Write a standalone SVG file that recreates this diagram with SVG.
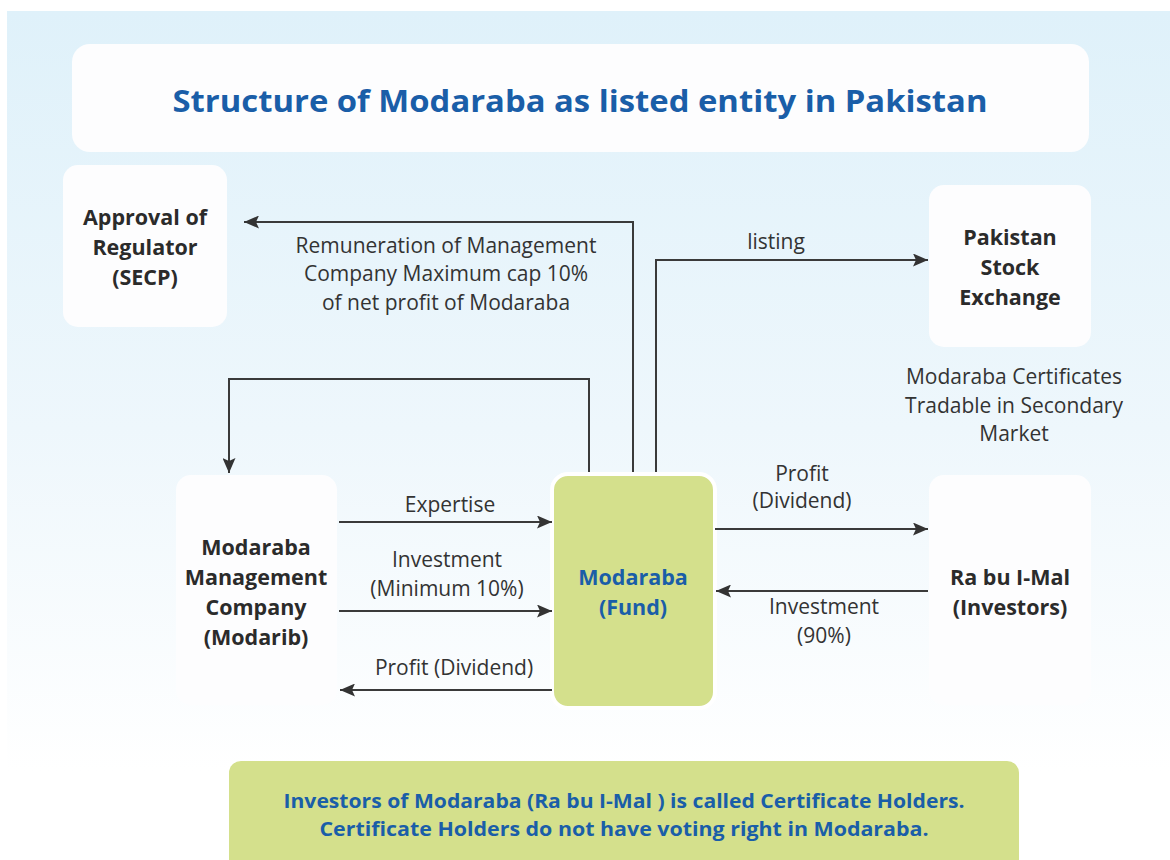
<svg xmlns="http://www.w3.org/2000/svg" width="1170" height="860" viewBox="0 0 1170 860">
<defs>
<linearGradient id="bg" x1="0" y1="0" x2="0" y2="1">
<stop offset="0" stop-color="#dff1fa"/>
<stop offset="0.55" stop-color="#eef7fc"/>
<stop offset="1" stop-color="#ffffff"/>
</linearGradient>
<marker id="ah" viewBox="0 0 15 13" refX="15" refY="6.5" markerWidth="15" markerHeight="13" markerUnits="userSpaceOnUse" orient="auto">
<path d="M0,0 L15,6.5 L0,13 L3,6.5 Z" fill="#333333"/>
</marker>
<style>
.box{fill:#fdfdfe}
.lbl{font-family:"Open Sans","Liberation Sans",sans-serif;font-size:21px;fill:#333333;text-anchor:middle}
.nd{font-family:"Open Sans","Liberation Sans",sans-serif;font-size:21.5px;font-weight:bold;fill:#2b2b2b;text-anchor:middle}
.blue{font-family:"Open Sans","Liberation Sans",sans-serif;font-weight:bold;fill:#1a5ea8;text-anchor:middle}
.ln{fill:none;stroke:#3a3a3a;stroke-width:2}
</style>
</defs>
<rect width="1170" height="860" fill="#ffffff"/>
<rect x="7" y="11" width="1163" height="760" fill="url(#bg)"/>

<g id="title">
<rect x="72" y="44" width="1017" height="108" rx="18" fill="#fdfdfe"/>
<text class="blue" x="580" y="112" font-size="31" textLength="815" lengthAdjust="spacingAndGlyphs">Structure of Modaraba as listed entity in Pakistan</text>
</g>

<g id="regulator">
<rect class="box" x="63" y="165" width="164" height="162" rx="15"/>
<text class="nd" x="145" y="225">Approval of</text>
<text class="nd" x="145" y="255">Regulator</text>
<text class="nd" x="145" y="285">(SECP)</text>
</g>

<g id="psx">
<rect class="box" x="929" y="185" width="162" height="162" rx="15"/>
<text class="nd" x="1010" y="245">Pakistan</text>
<text class="nd" x="1010" y="275">Stock</text>
<text class="nd" x="1010" y="305">Exchange</text>
</g>

<g id="management">
<rect class="box" x="176" y="475" width="161" height="230" rx="15"/>
<text class="nd" x="256" y="555">Modaraba</text>
<text class="nd" x="256" y="585">Management</text>
<text class="nd" x="256" y="615">Company</text>
<text class="nd" x="256" y="645">(Modarib)</text>
</g>

<g id="fund">
<rect x="552" y="474" width="163" height="234" rx="16" fill="#d4e08c" stroke="#ffffff" stroke-width="4"/>
<text class="blue" x="633" y="585" font-size="21.5">Modaraba</text>
<text class="blue" x="633" y="615" font-size="21.5">(Fund)</text>
</g>

<g id="investors">
<rect class="box" x="929" y="475" width="162" height="230" rx="15"/>
<text class="nd" x="1010" y="585">Ra bu I-Mal</text>
<text class="nd" x="1010" y="615">(Investors)</text>
</g>

<g id="connectors">
<polyline class="ln" points="633,472 633,222 244,222" marker-end="url(#ah)"/>
<polyline class="ln" points="656,472 656,260 928,260" marker-end="url(#ah)"/>
<polyline class="ln" points="589,472 589,379 229,379 229,473" marker-end="url(#ah)"/>
<line class="ln" x1="339" y1="522" x2="552" y2="522" marker-end="url(#ah)"/>
<line class="ln" x1="339" y1="611" x2="552" y2="611" marker-end="url(#ah)"/>
<line class="ln" x1="552" y1="690" x2="340" y2="690" marker-end="url(#ah)"/>
<line class="ln" x1="715" y1="529" x2="928" y2="529" marker-end="url(#ah)"/>
<line class="ln" x1="928" y1="591" x2="716" y2="591" marker-end="url(#ah)"/>
</g>

<g id="labels">
<text class="lbl" x="446" y="253">Remuneration of Management</text>
<text class="lbl" x="446" y="281">Company Maximum cap 10%</text>
<text class="lbl" x="446" y="310">of net profit of Modaraba</text>
<text class="lbl" x="776" y="249">listing</text>
<text class="lbl" x="1014" y="384">Modaraba Certificates</text>
<text class="lbl" x="1014" y="413">Tradable in Secondary</text>
<text class="lbl" x="1014" y="441">Market</text>
<text class="lbl" x="450" y="512">Expertise</text>
<text class="lbl" x="447" y="567">Investment</text>
<text class="lbl" x="447" y="596">(Minimum 10%)</text>
<text class="lbl" x="454" y="675">Profit (Dividend)</text>
<text class="lbl" x="802" y="481">Profit</text>
<text class="lbl" x="802" y="508">(Dividend)</text>
<text class="lbl" x="824" y="614">Investment</text>
<text class="lbl" x="824" y="643">(90%)</text>
</g>

<g id="note">
<rect x="229" y="761" width="790" height="120" rx="12" fill="#d4e08c"/>
<text class="blue" x="624" y="808" font-size="20" textLength="681" lengthAdjust="spacingAndGlyphs">Investors of Modaraba (Ra bu I-Mal ) is called Certificate Holders.</text>
<text class="blue" x="624" y="836" font-size="20" textLength="609" lengthAdjust="spacingAndGlyphs">Certificate Holders do not have voting right in Modaraba.</text>
</g>
</svg>
